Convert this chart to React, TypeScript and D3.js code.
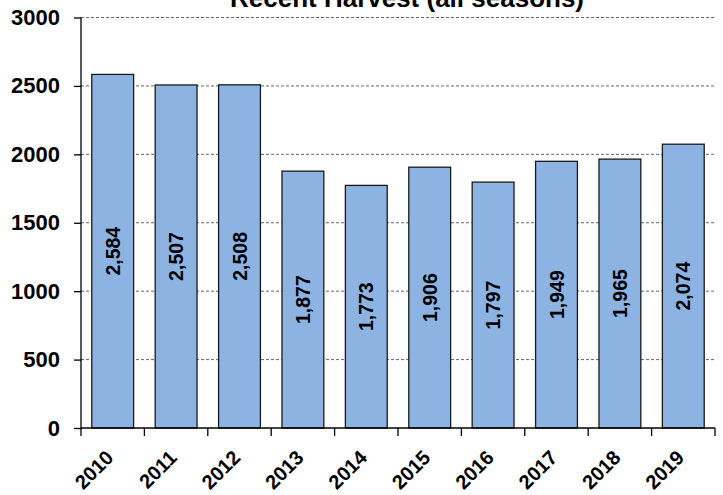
import React, { useRef, useEffect } from 'react';
import * as d3 from 'd3';

const years = ['2010', '2011', '2012', '2013', '2014', '2015', '2016', '2017', '2018', '2019'];
const harvest = [2584, 2507, 2508, 1877, 1773, 1906, 1797, 1949, 1965, 2074];
const yTicks = [0, 500, 1000, 1500, 2000, 2500, 3000];
const chartTitle = 'Recent Harvest (all seasons)';

const App = () => {
    const svgRef = useRef<SVGSVGElement | null>(null);

    useEffect(() => {
        if (!svgRef.current) return;
        const W = 723, H = 495;
        const margin = { top: 17.5, right: 8, bottom: 67, left: 81 };
        const width = W - margin.left - margin.right;
        const height = H - margin.top - margin.bottom;
        const font = '"Liberation Sans", Arial, sans-serif';

        const root = d3.select(svgRef.current);
        root.selectAll('*').remove();

        const data = years.map((y, i) => ({ year: y, value: harvest[i] }));

        const x = d3.scaleBand<string>().domain(years).range([0, width]).paddingInner(0.34).paddingOuter(0.17);
        const y = d3.scaleLinear().domain([0, 3000]).range([height, 0]);

        root.append('text')
            .attr('x', 407)
            .attr('y', 7)
            .attr('text-anchor', 'middle')
            .style('font-family', font)
            .style('font-weight', 'bold')
            .style('font-size', '26px')
            .text(chartTitle);

        const g = root.append('g').attr('transform', `translate(${margin.left},${margin.top})`);

        // dashed gridlines
        g.selectAll('.grid')
            .data(yTicks.filter(t => t > 0))
            .enter().append('line')
            .attr('x1', 0)
            .attr('x2', width)
            .attr('y1', d => y(d))
            .attr('y2', d => y(d))
            .attr('stroke', '#666')
            .attr('stroke-width', 1)
            .attr('stroke-dasharray', '3,2');

        g.selectAll('.bar')
            .data(data)
            .enter().append('rect')
            .attr('x', d => x(d.year)!)
            .attr('y', d => y(d.value))
            .attr('width', x.bandwidth())
            .attr('height', d => height - y(d.value))
            .attr('fill', '#8db3e2')
            .attr('stroke', '#1a1a1a')
            .attr('stroke-width', 1.3);

        g.selectAll('.val')
            .data(data)
            .enter().append('text')
            .attr('transform', d => `translate(${x(d.year)! + x.bandwidth() / 2 + 7},${(y(d.value) + height) / 2}) rotate(-90)`)
            .attr('text-anchor', 'middle')
            .style('font-family', font)
            .style('font-weight', 'bold')
            .style('font-size', '19.5px')
            .text(d => d3.format(',')(d.value));

        // y axis
        const yAxis = g.append('g')
            .call(d3.axisLeft(y).tickValues(yTicks).tickSize(7).tickPadding(14).tickFormat(d3.format('d')));
        yAxis.select('.domain').attr('stroke', '#000').attr('stroke-width', 1.3).attr('d', `M0,${height}V0`);
        yAxis.selectAll('.tick line').attr('stroke', '#000').attr('stroke-width', 1.3);
        yAxis.selectAll('text')
            .style('font-family', font)
            .style('font-weight', 'bold')
            .style('font-size', '22px')
            .attr('fill', '#000');

        // x axis with ticks at category boundaries
        const xAxis = g.append('g').attr('transform', `translate(0,${height})`);
        xAxis.append('line')
            .attr('x1', 0).attr('x2', width)
            .attr('stroke', '#000').attr('stroke-width', 1.3);
        const step = x.step();
        xAxis.selectAll('.xt')
            .data(d3.range(years.length + 1))
            .enter().append('line')
            .attr('x1', i => i * step)
            .attr('x2', i => i * step)
            .attr('y1', 0)
            .attr('y2', 8)
            .attr('stroke', '#000').attr('stroke-width', 1.3);
        xAxis.selectAll('.xl')
            .data(years)
            .enter().append('text')
            .attr('transform', d => `translate(${x(d)! + x.bandwidth() / 2 + 2},${31}) rotate(-45)`)
            .attr('text-anchor', 'end')
            .style('font-family', font)
            .style('font-weight', 'bold')
            .style('font-size', '20px')
            .text(d => d);
    }, []);

    return (
        <svg ref={svgRef} width={723} height={495}
            style={{ position: 'absolute', left: 0, top: 0, background: '#fff' }} />
    );
};

export default App;
